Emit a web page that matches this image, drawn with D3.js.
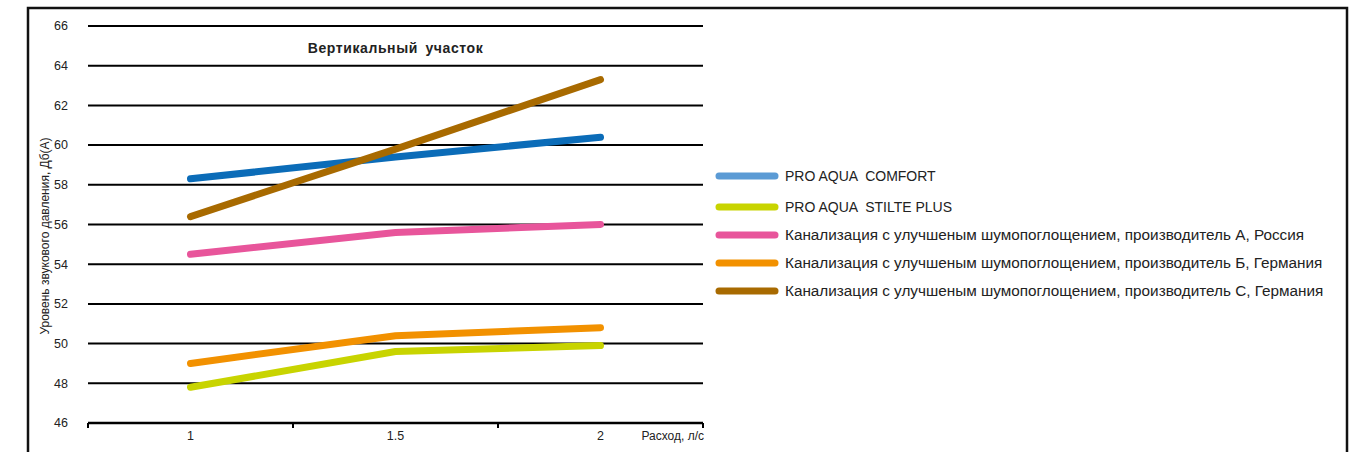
<!DOCTYPE html>
<html>
<head>
<meta charset="utf-8">
<script src="https://cdn.jsdelivr.net/npm/d3@7"></script>
<style>
  body { margin: 0; background: #fff; }
  svg text { font-family: "Liberation Sans Narrow", "Liberation Sans", Arial, sans-serif; fill: #222; }
</style>
</head>
<body>
<svg id="chart" width="1354" height="452"></svg>
<script>
// Data
const flows = ['1', '1.5', '2'];
const yTicks = [46, 48, 50, 52, 54, 56, 58, 60, 62, 64, 66];
const seriesNames = [
  'PRO AQUA  COMFORT',
  'PRO AQUA  STILTE PLUS',
  'Канализация с улучшеным шумопоглощением, производитель А, Россия',
  'Канализация с улучшеным шумопоглощением, производитель Б, Германия',
  'Канализация с улучшеным шумопоглощением, производитель С, Германия'
];
const comfort = [58.3, 59.4, 60.4];
const stiltePlus = [47.8, 49.6, 49.9];
const russiaA = [54.5, 55.6, 56.0];
const germanyB = [49.0, 50.4, 50.8];
const germanyC = [56.4, 59.8, 63.3];

const lineColors = ['#0b6cb8', '#c8d400', '#e8559b', '#f29100', '#a86a00'];
const legendColors = ['#5b9bd5', '#c8d400', '#e8559b', '#f29100', '#a86a00'];
const values = [comfort, stiltePlus, russiaA, germanyB, germanyC];

const svg = d3.select('#chart');

// outer frame
svg.append('rect')
  .attr('x', 28).attr('y', 8)
  .attr('width', 1319).attr('height', 460)
  .attr('fill', 'none')
  .attr('stroke', '#111')
  .attr('stroke-width', 2.5);

const margin = { top: 26, left: 88 };
const width = 615, height = 397;

const g = svg.append('g')
  .attr('transform', `translate(${margin.left},${margin.top})`);

const x = d3.scaleBand().domain(flows).range([0, width]);
const y = d3.scaleLinear().domain([46, 66]).range([height, 0]);

// horizontal grid lines
g.append('g')
  .selectAll('line')
  .data(yTicks.filter(d => d > 46))
  .enter()
  .append('line')
  .attr('x1', 0).attr('x2', width)
  .attr('y1', d => y(d)).attr('y2', d => y(d))
  .attr('stroke', '#000')
  .attr('stroke-width', 2);

// y tick labels
g.append('g')
  .selectAll('text')
  .data(yTicks)
  .enter()
  .append('text')
  .attr('x', -20)
  .attr('y', d => y(d))
  .attr('dy', '0.35em')
  .attr('text-anchor', 'end')
  .style('font-size', '12.5px')
  .text(d => d);

// x axis with ticks at band edges
const xAxis = g.append('g').attr('transform', `translate(0,${height})`);
xAxis.append('line')
  .attr('x1', 0).attr('x2', width)
  .attr('stroke', '#000').attr('stroke-width', 2.5);
xAxis.selectAll('.tick')
  .data(flows.map(f => x(f)).concat([width]))
  .enter()
  .append('line')
  .attr('x1', d => d).attr('x2', d => d)
  .attr('y1', 0).attr('y2', 5)
  .attr('stroke', '#000').attr('stroke-width', 2);
xAxis.selectAll('.lbl')
  .data(flows)
  .enter()
  .append('text')
  .attr('x', d => x(d) + x.bandwidth() / 2)
  .attr('y', 17)
  .attr('text-anchor', 'middle')
  .style('font-size', '12.5px')
  .text(d => d);
xAxis.append('text')
  .attr('x', width + 1)
  .attr('y', 17)
  .attr('text-anchor', 'end')
  .style('font-size', '12px')
  .text('Расход, л/с');

// y axis title
svg.append('text')
  .attr('transform', 'translate(49,236) rotate(-90)')
  .attr('text-anchor', 'middle')
  .style('font-size', '12px')
  .text('Уровень звукового давления, Дб(А)');

// chart title
g.append('text')
  .attr('x', x('1.5') + x.bandwidth() / 2)
  .attr('y', 27)
  .attr('text-anchor', 'middle')
  .style('font-family', '"Liberation Sans", Arial, sans-serif')
  .style('font-weight', 'bold')
  .style('font-size', '14px')
  .style('letter-spacing', '0.6px')
  .style('word-spacing', '3px')
  .text('Вертикальный  участок');

// series lines
const line = d3.line()
  .x((d, i) => x(flows[i]) + x.bandwidth() / 2)
  .y(d => y(d));

g.selectAll('.series')
  .data(values)
  .enter()
  .append('path')
  .attr('d', d => line(d))
  .attr('fill', 'none')
  .attr('stroke', (d, i) => lineColors[i])
  .attr('stroke-width', 7)
  .attr('stroke-linecap', 'round')
  .attr('stroke-linejoin', 'round');

// legend
const legend = svg.append('g').attr('transform', 'translate(719,176)');
const rowY = [0, 31, 59, 87, 115];
const items = legend.selectAll('g')
  .data(seriesNames)
  .enter()
  .append('g')
  .attr('transform', (d, i) => `translate(0,${rowY[i]})`);
items.append('line')
  .attr('x1', 0).attr('x2', 56)
  .attr('stroke', (d, i) => legendColors[i])
  .attr('stroke-width', 7)
  .attr('stroke-linecap', 'round');
items.append('text')
  .attr('x', 66)
  .attr('dy', '0.35em')
  .style('font-size', (d, i) => i < 2 ? '14px' : '15.3px')
  .style('white-space', 'pre')
  .text(d => d);
</script>
</body>
</html>
